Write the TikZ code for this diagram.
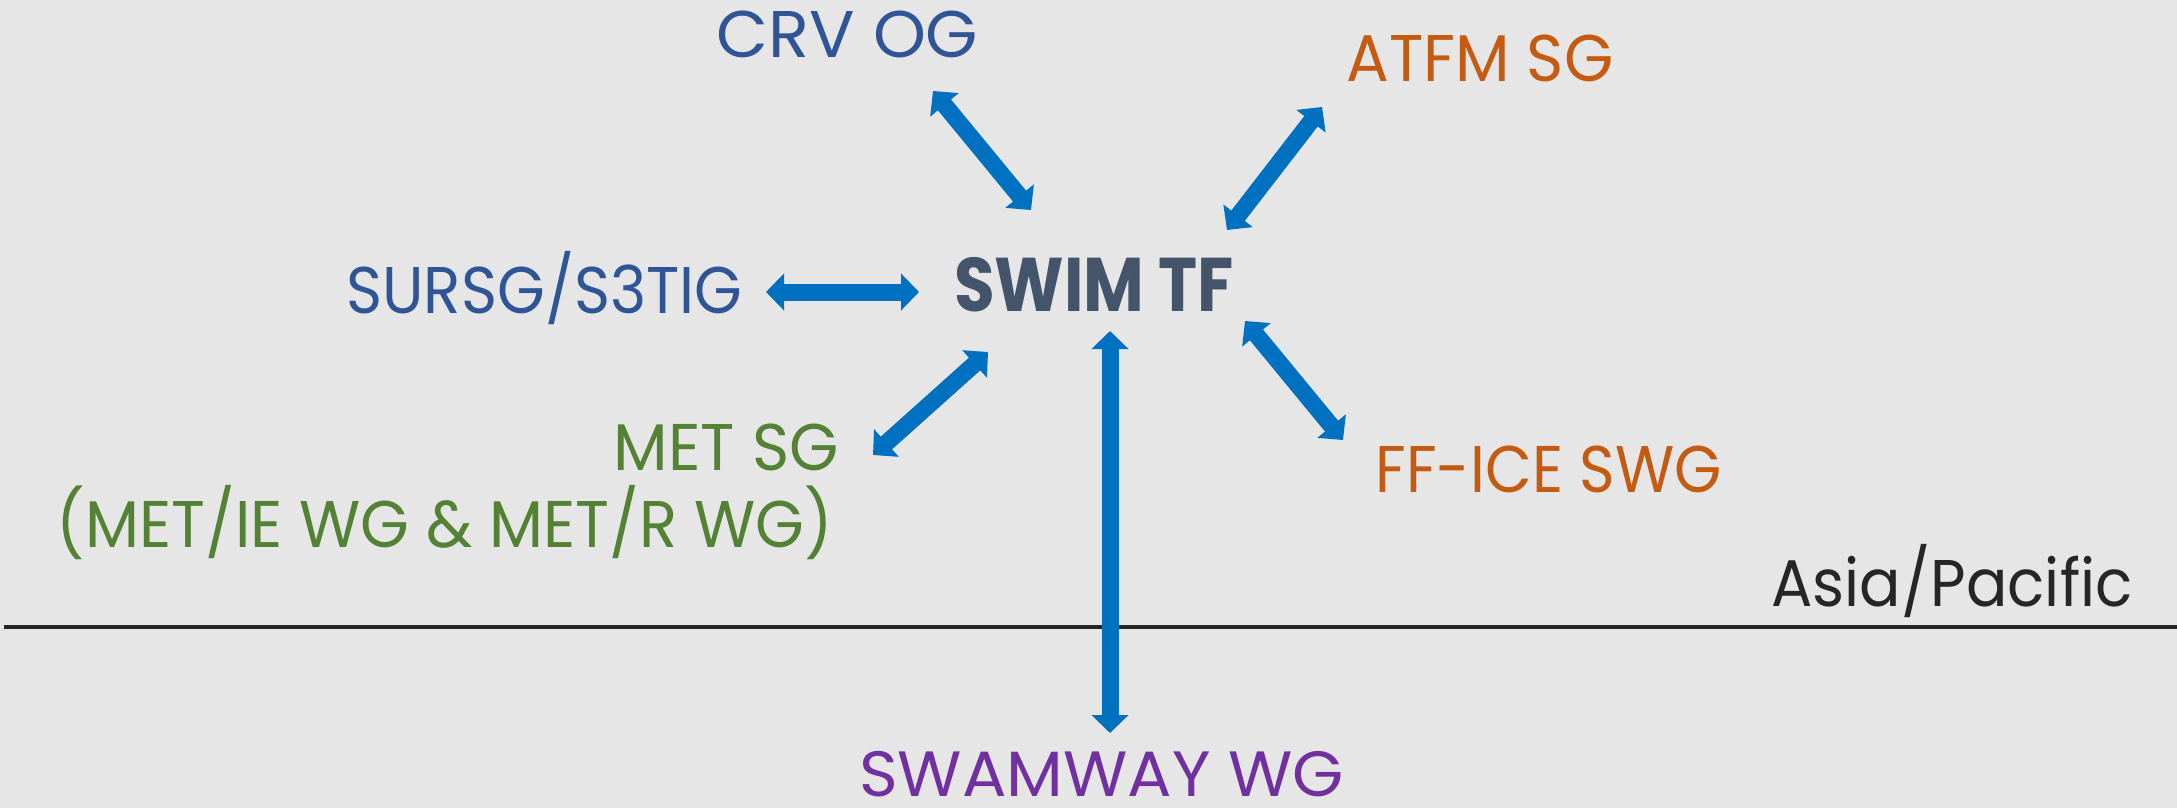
\documentclass[tikz,border=0pt]{standalone}
\usepackage{fontspec}
\setmainfont{Poppins}
\usetikzlibrary{arrows.meta}
\definecolor{bgc}{HTML}{E6E6E6}
\definecolor{arrowc}{HTML}{0070C0}
\definecolor{swimc}{HTML}{44546A}
\definecolor{bluec}{HTML}{2F5597}
\definecolor{orangec}{HTML}{C55A11}
\definecolor{greenc}{HTML}{548235}
\definecolor{purplec}{HTML}{7030A0}
\definecolor{darkc}{HTML}{262626}
\begin{document}
\begin{tikzpicture}[x=0.5pt,y=-0.5pt,
  lab/.style={inner sep=0pt, font=\fontsize{33}{40}\selectfont},
  conn/.style={draw=arrowc, line width=8.5pt,
    {Triangle[length=9pt,width=18pt]}-{Triangle[length=9pt,width=18pt]}}]
\fill[bgc] (0,0) rectangle (2177,808);
\useasboundingbox (0,0) rectangle (2177,808);
% labels
\node[lab, text=bluec, anchor=base, xscale=1.02] (crv) at (847.5,58) {CRV OG};
\node[lab, text=orangec, anchor=base, xscale=0.96] (atfm) at (1480,82) {ATFM SG};
\node[lab, text=bluec, anchor=base, xscale=0.93] (sursg) at (544.5,313) {SURSG/S3TIG};
\node[lab, text=swimc, anchor=base, xscale=0.87, font=\fontsize{38}{44}\selectfont\bfseries] (swim) at (1094,311) {SWIM TF};
\node[lab, text=greenc, anchor=base east, xscale=0.96] (met) at (839,470) {MET SG};
\node[lab, text=greenc, anchor=base east, xscale=0.95] (metsub) at (833,547) {(MET/IE WG \& MET/R WG)};
\node[lab, text=orangec, anchor=base, xscale=0.92] (ffice) at (1548.5,492) {FF-ICE SWG};
\node[lab, text=darkc, anchor=base, xscale=0.93] (asia) at (1952,606) {Asia/Pacific};
\node[lab, text=purplec, anchor=base, font=\fontsize{32}{40}\selectfont, xscale=1.03] (swamway) at (1101.5,796) {SWAMWAY WG};
% boundary line
\coordinate (lineL) at (4,627);
\coordinate (lineR) at (2177,627);
\draw[darkc, line width=2pt] (lineL) -- (lineR);
% arrow end points
\coordinate (crvA) at (933,91);    \coordinate (crvB) at (1031,210);
\coordinate (atfmA) at (1322,107); \coordinate (atfmB) at (1227,230);
\coordinate (sursgA) at (766,292); \coordinate (sursgB) at (919,292);
\coordinate (metA) at (873,455);   \coordinate (metB) at (988,352);
\coordinate (fficeA) at (1343,440);\coordinate (fficeB) at (1245,321);
\coordinate (swamA) at (1110,733); \coordinate (swamB) at (1110,331);
% connectors
\draw[conn] (crvA) -- (crvB);
\draw[conn] (atfmA) -- (atfmB);
\draw[conn] (sursgA) -- (sursgB);
\draw[conn] (metA) -- (metB);
\draw[conn] (fficeA) -- (fficeB);
\draw[conn] (swamA) -- (swamB);
\end{tikzpicture}
\end{document}
